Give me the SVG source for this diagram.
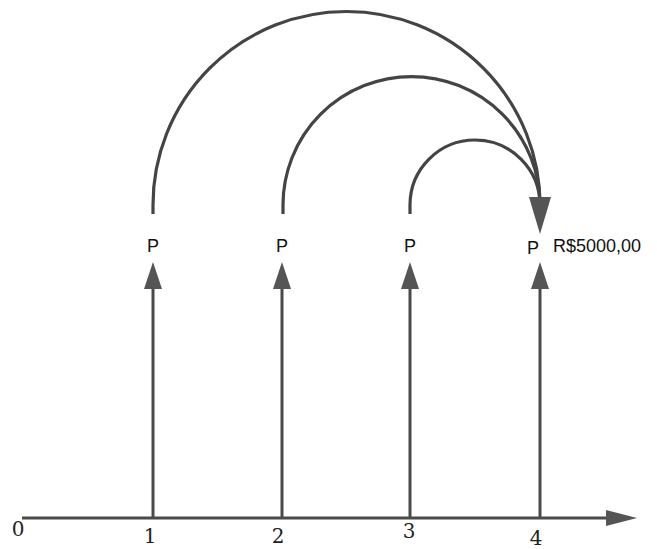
<svg xmlns="http://www.w3.org/2000/svg" width="657" height="549" viewBox="0 0 657 549">
<style>
.ln{stroke:#4a4a4a;stroke-width:3;fill:none}
.arc{stroke:#444;stroke-width:3.2;fill:none}
.ah{fill:#555}
.p{font-family:"Liberation Sans",Arial,sans-serif;font-size:18px;fill:#111}
.num{font-family:"DejaVu Serif","Liberation Serif",serif;font-size:20px;fill:#222}
</style>
<rect width="657" height="549" fill="#fff"/>
<g id="connectors">
<line class="ln" x1="22" y1="518" x2="610" y2="518"/>
<polygon class="ah" points="606,510 637,518 606,526"/>
<line class="ln" x1="153" y1="518" x2="153" y2="285"/>
<polygon class="ah" points="144,289 153,262 162,289"/>
<line class="ln" x1="282" y1="518" x2="282" y2="285"/>
<polygon class="ah" points="273,289 282,262 291,289"/>
<line class="ln" x1="410" y1="518" x2="410" y2="285"/>
<polygon class="ah" points="401,289 410,262 419,289"/>
<line class="ln" x1="540" y1="518" x2="540" y2="285"/>
<polygon class="ah" points="531,289 540,262 549,289"/>
<path class="arc" d="M153,214 L153,205 A193.5,193.5 0 0 1 540,205"/>
<path class="arc" d="M283,214 L283,205 A128.5,128.5 0 0 1 540,205"/>
<path class="arc" d="M410,214 L410,205 A65,65 0 0 1 540,205"/>
<polygon class="ah" points="529,197 551,197 540,234"/>
</g>
<g id="labels">
<text class="num" x="18" y="536" text-anchor="middle">0</text>
<text class="num" x="150" y="543" text-anchor="middle">1</text>
<text class="num" x="278" y="543" text-anchor="middle">2</text>
<text class="num" x="409" y="538" text-anchor="middle">3</text>
<text class="num" x="536" y="545" text-anchor="middle">4</text>
</g>
<g id="p1"><text class="p" x="153" y="252" text-anchor="middle">P</text></g>
<g id="p2"><text class="p" x="282" y="252" text-anchor="middle">P</text></g>
<g id="p3"><text class="p" x="410" y="252" text-anchor="middle">P</text></g>
<g id="p4"><text class="p" x="533" y="254" text-anchor="middle">P</text></g>
<g id="value"><text class="p" x="553" y="252">R$5000,00</text></g>
</svg>
